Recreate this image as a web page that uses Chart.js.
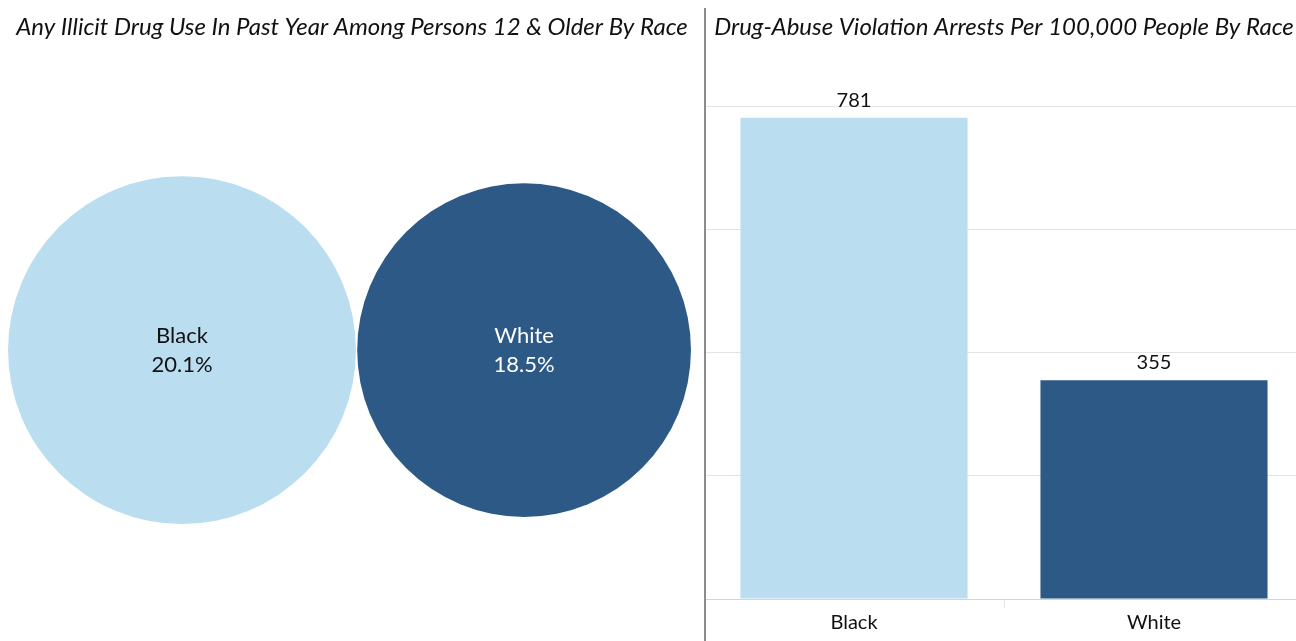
<!DOCTYPE html>
<html>
<head>
<meta charset="utf-8">
<script src="https://cdn.jsdelivr.net/npm/chart.js@4"></script>
<style>
    body { margin: 0; background: #fff; }
    #wrap { position: relative; width: 1296px; height: 641px; overflow: hidden; }
    #left { position: absolute; left: 0; top: 0; }
    #right { position: absolute; left: 704px; top: 0; }
    #sep { position: absolute; left: 704px; top: 8px; width: 2px; bottom: 0; background: #8c8c8c; }
</style>
</head>
<body>
<div id="wrap">
    <canvas id="left" width="704" height="641"></canvas>
    <canvas id="right" width="600" height="641"></canvas>
    <div id="sep"></div>
</div>
<script>
// data ===============================================================
const races = ["Black", "White"];
const drugUsePct = [20.1, 18.5];      // % using any illicit drug in past year
const arrestsPer100k = [781, 355];    // drug-abuse violation arrests per 100,000
const arrestTicks = [0, 200, 400, 600, 800];

const colors = ["#BADDF0", "#2C5985"];
const labelColors = ["#111", "#fff"];
const FONT = "Lato, 'Open Sans', sans-serif";
const PX_PER_ROOT = 38.8;   // bubble radius per sqrt(percent): area ~ value

Chart.defaults.font.family = FONT;
Chart.defaults.color = "#111";

// bubble labels ===============================================================
const bubbleLabels = {
    id: 'bubbleLabels',
    afterDatasetsDraw(chart) {
        const ctx = chart.ctx;
        const meta = chart.getDatasetMeta(0);
        ctx.save();
        ctx.font = "22px " + FONT;
        ctx.textAlign = "center";
        ctx.textBaseline = "middle";
        meta.data.forEach((el, i) => {
            ctx.fillStyle = labelColors[i];
            ctx.fillText(races[i], el.x, el.y - 14);
            ctx.fillText(drugUsePct[i].toFixed(1) + "%", el.x, el.y + 15);
        });
        ctx.restore();
    }
};

// bar value labels ===============================================================
const barLabels = {
    id: 'barLabels',
    afterDatasetsDraw(chart) {
        const ctx = chart.ctx;
        const meta = chart.getDatasetMeta(0);
        ctx.save();
        ctx.font = "20px " + FONT;
        ctx.fillStyle = "#111";
        ctx.textAlign = "center";
        ctx.textBaseline = "alphabetic";
        meta.data.forEach((el, i) => {
            ctx.fillText(String(arrestsPer100k[i]), el.x, el.y - 11);
        });
        ctx.restore();
    }
};

const titleFont = { family: FONT, size: 24, style: "italic", weight: "normal" };

// left: bubbles ===============================================================
new Chart(document.getElementById("left"), {
    type: "bubble",
    data: {
        datasets: [{
            data: drugUsePct.map((v, i) => ({ x: i, y: 0, r: Math.sqrt(v) * PX_PER_ROOT })),
            backgroundColor: colors,
            borderWidth: 0,
            clip: false,
        }]
    },
    options: {
        responsive: false,
        animation: false,
        layout: { padding: 0, autoPadding: false },
        plugins: {
            legend: { display: false },
            tooltip: { enabled: false },
            title: {
                display: true,
                text: "Any Illicit Drug Use In Past Year Among Persons 12 & Older By Race",
                font: titleFont,
                color: "#111",
                padding: { top: 13, bottom: 17.4 },
            },
        },
        scales: {
            x: { type: "linear", display: false, min: -0.532, max: 1.526 },
            y: { type: "linear", display: false, min: -1, max: 1 },
        },
    },
    plugins: [bubbleLabels]
});

// right: bars ===============================================================
new Chart(document.getElementById("right"), {
    type: "bar",
    data: {
        labels: races,
        datasets: [{
            data: arrestsPer100k,
            backgroundColor: colors,
            barPercentage: 0.757,
            categoryPercentage: 1,
        }]
    },
    options: {
        responsive: false,
        animation: false,
        layout: { padding: { left: 0, right: 0, top: 0, bottom: 3 } },
        plugins: {
            legend: { display: false },
            tooltip: { enabled: false },
            title: {
                display: true,
                text: "Drug-Abuse Violation Arrests Per 100,000 People By Race",
                font: titleFont,
                color: "#111",
                padding: { top: 13, bottom: 64.2 },
            },
        },
        scales: {
            x: {
                grid: { display: true, drawOnChartArea: false, drawTicks: true, tickLength: 9, color: "#e6e6e6" },
                border: { display: true, color: "#d4d4d4" },
                ticks: { font: { size: 20 }, color: "#111", padding: 3 },
            },
            y: {
                min: 0,
                max: 800,
                afterBuildTicks: (axis) => { axis.ticks = arrestTicks.map(v => ({ value: v })); },
                ticks: { display: false },
                grid: { color: "#e3e3e3", drawTicks: false },
                border: { display: false },
            },
        },
    },
    plugins: [barLabels]
});
</script>
</body>
</html>
